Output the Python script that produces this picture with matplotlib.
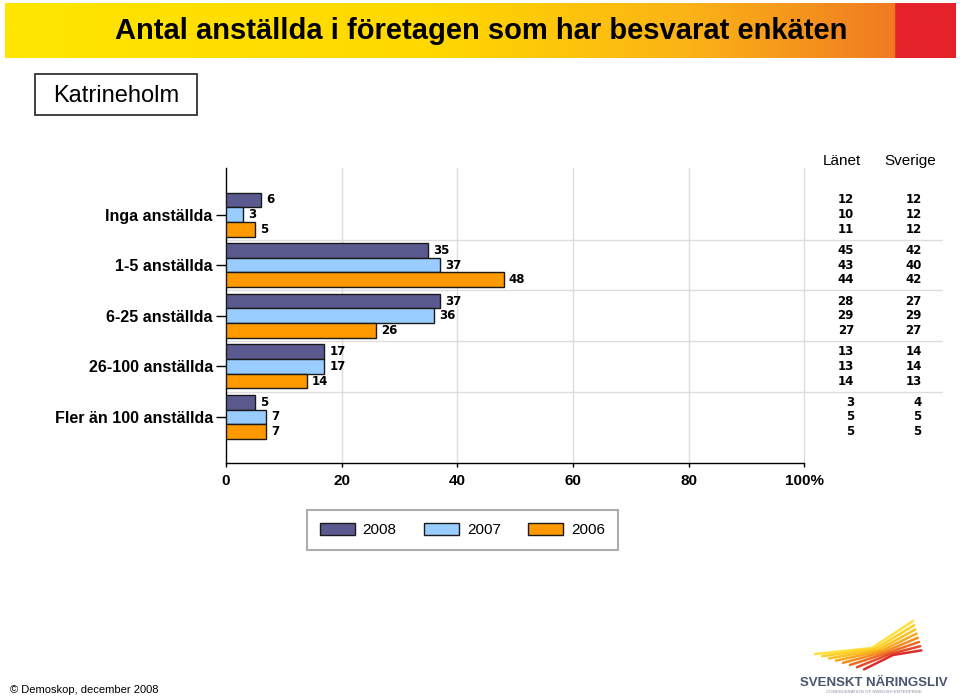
import numpy as np
import matplotlib
matplotlib.use("Agg")
import matplotlib.pyplot as plt
from matplotlib.colors import LinearSegmentedColormap
from matplotlib.patches import Rectangle, Patch

plt.rcParams['font.family'] = ['Liberation Sans', 'DejaVu Sans']
NUMFONT = ['DejaVu Sans']

# data
categories = ["Inga anställda", "1-5 anställda", "6-25 anställda",
              "26-100 anställda", "Fler än 100 anställda"]
years = ["2008", "2007", "2006"]
v2008 = [6, 35, 37, 17, 5]
v2007 = [3, 37, 36, 17, 7]
v2006 = [5, 48, 26, 14, 7]
lanet = [[12, 10, 11], [45, 43, 44], [28, 29, 27], [13, 13, 14], [3, 5, 5]]
sverige = [[12, 12, 12], [42, 40, 42], [27, 29, 27], [14, 14, 13], [4, 5, 5]]
xticks = [0, 20, 40, 60, 80, 100]
xticklabels = ["0", "20", "40", "60", "80", "100%"]

colors = ["#5b5a8e", "#99ccff", "#ff9900"]
series = [v2008, v2007, v2006]

fig = plt.figure(figsize=(9.6, 6.98), dpi=100)
W, H = 960, 698

def fx(px):
    return px / W

def fy(py):
    return 1 - py / H

# banner with gradient
bax = fig.add_axes([fx(5), fy(58), fx(950), 55 / H])
cmap = LinearSegmentedColormap.from_list(
    "ban", [(0, "#ffe600"), (0.45, "#ffd800"), (0.72, "#fbb316"),
            (0.94, "#f07a22"), (0.9401, "#e52229"), (1, "#e52229")])
grad = np.linspace(0, 1, 500)[None, :]
bax.imshow(grad, aspect="auto", cmap=cmap, extent=[0, 1, 0, 1])
bax.set_xlim(0, 1)
bax.set_ylim(0, 1)
bax.axis("off")
fig.text(fx(481), fy(31), "Antal anställda i företagen som har besvarat enkäten",
         ha="center", va="center", fontsize=21, fontweight="bold")

# location box
fig.patches.append(Rectangle((fx(35), fy(115)), fx(162), 41 / H, transform=fig.transFigure,
                             facecolor="white", edgecolor="#333333", linewidth=1.3))
fig.text(fx(116), fy(96), "Katrineholm", ha="center", va="center", fontsize=17)

# main axes
ax = fig.add_axes([fx(226), fy(463), fx(943 - 226), (463 - 168) / H])
y = np.arange(len(categories))
h = 0.29
offsets = [-h, 0, h]
for vals, col, off, yr in zip(series, colors, offsets, years):
    bars = ax.barh(y + off, vals, height=h, color=col, edgecolor="#1a1a1a",
                   linewidth=1.0, label=yr, zorder=3)
    for b, v in zip(bars, vals):
        ax.text(b.get_width() + 0.9, b.get_y() + b.get_height() / 2, str(v),
                ha="left", va="center", fontsize=8.5, fontweight="bold",
                family=NUMFONT, zorder=4)

ax.set_xlim(0, 124)
ax.set_ylim(4 + 0.91, -0.92)
ax.set_xticks(xticks)
ax.set_xticklabels(xticklabels, fontsize=11, fontweight="bold")
ax.set_yticks(y)
ax.set_yticklabels(categories, fontsize=11.5, fontweight="bold")
ax.tick_params(axis="y", length=7.5, width=1, pad=2)
ax.tick_params(axis="x", length=3, width=1, pad=5)
for s in ["top", "right"]:
    ax.spines[s].set_visible(False)
ax.spines["bottom"].set_bounds(0, 100)
ax.spines["left"].set_linewidth(1)
ax.spines["bottom"].set_linewidth(1)

# grid
for xv in xticks[1:]:
    ax.axvline(xv, color="#dddddd", linewidth=1, zorder=1)
for yv in y[:-1] + 0.5:
    ax.axhline(yv, color="#dddddd", linewidth=1, zorder=1)

# Länet / Sverige columns
ax.text(106.5, -0.92, "Länet", ha="center", va="bottom", fontsize=11)
ax.text(118.3, -0.92, "Sverige", ha="center", va="bottom", fontsize=11)
for i in range(len(categories)):
    for j in range(3):
        ax.text(108.6, y[i] + offsets[j], str(lanet[i][j]), ha="right", va="center",
                fontsize=8.5, fontweight="bold", family=NUMFONT)
        ax.text(120.3, y[i] + offsets[j], str(sverige[i][j]), ha="right", va="center",
                fontsize=8.5, fontweight="bold", family=NUMFONT)

# legend
handles = [Patch(facecolor=c, edgecolor="#1a1a1a", linewidth=1) for c in colors]
leg = fig.legend(handles, years, loc="center", bbox_to_anchor=(fx(462.5), fy(530)),
                 ncol=3, fontsize=11, frameon=True, fancybox=False,
                 edgecolor="#999999", handlelength=2.3, handleheight=0.8,
                 columnspacing=1.8, borderpad=0.85, handletextpad=0.5,
                 borderaxespad=0)
leg.get_frame().set_linewidth(1.5)

# footer
fig.text(fx(10), fy(690), "© Demoskop, december 2008", ha="left", va="center",
         fontsize=8)

# logo: wing strokes
wing_cols = ["#ffe03a", "#fdd025", "#fbbf1f", "#f8a81e", "#f48c1f",
             "#ee6c24", "#e64a2a", "#dc2c2c"]
for k, c in enumerate(wing_cols):
    x0, y0 = 815 + 7 * k, 654 + 2.2 * k
    xm, ym = 872 + 3 * k, 648 + 1.0 * k
    x1, y1 = 913 + 1.2 * k, 621 + 4.2 * k
    fig.lines.append(plt.Line2D([fx(x0), fx(xm), fx(x1)], [fy(y0), fy(ym), fy(y1)],
                                transform=fig.transFigure, color=c, linewidth=1.8,
                                solid_capstyle="round"))
fig.text(fx(874), fy(683), "SVENSKT NÄRINGSLIV", ha="center", va="center",
         fontsize=9.5, fontweight="bold", color="#4a5570")
fig.text(fx(874), fy(692), "CONFEDERATION OF SWEDISH ENTERPRISE", ha="center",
         va="center", fontsize=3.2, color="#8a90a0")

fig.savefig("out.png", dpi=100)
